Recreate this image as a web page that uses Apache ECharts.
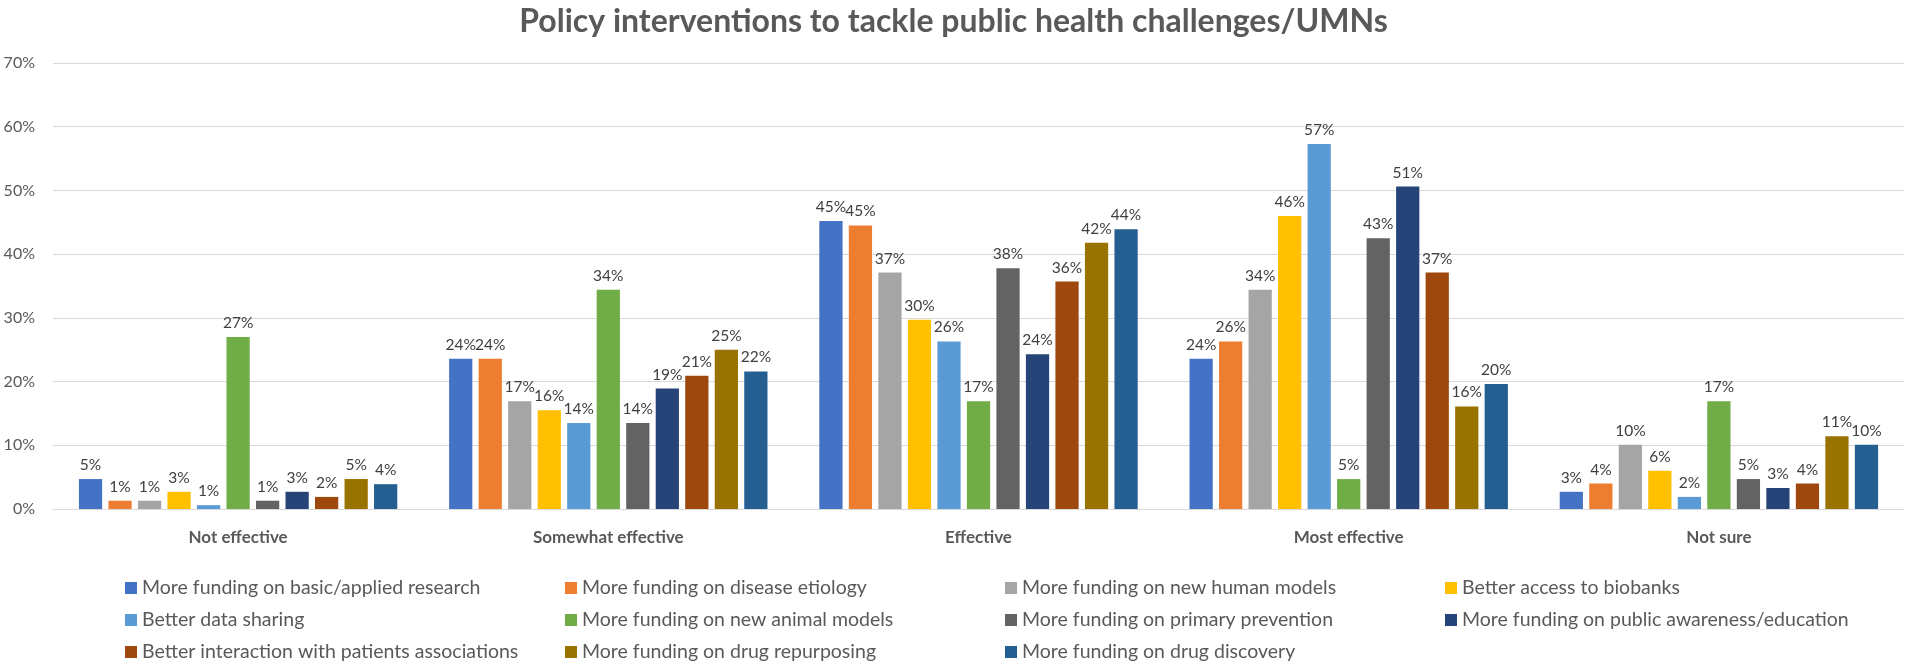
<!DOCTYPE html>
<html>
<head>
<meta charset="utf-8">
<script src="https://cdn.jsdelivr.net/npm/echarts@6/dist/echarts.min.js"></script>
<style>
  html, body { margin: 0; padding: 0; background: #fff; }
  #chart { width: 1907px; height: 666px; }
</style>
</head>
<body>
<div id="chart"></div>
<script>
// categories on the x axis
const categories = ['Not effective', 'Somewhat effective', 'Effective', 'Most effective', 'Not sure']

// series names (legend order)
const seriesNames = [
  'More funding on basic/applied research',
  'More funding on disease etiology',
  'More funding on new human models',
  'Better access to biobanks',
  'Better data sharing',
  'More funding on new animal models',
  'More funding on primary prevention',
  'More funding on public awareness/education',
  'Better interaction with patients associations',
  'More funding on drug repurposing',
  'More funding on drug discovery'
]

// values in percent, one array per series
const basicResearch   = [4.7, 23.6, 45.2, 23.6, 2.7]
const diseaseEtiology = [1.3, 23.6, 44.5, 26.3, 4.0]
const humanModels     = [1.3, 16.9, 37.1, 34.4, 10.1]
const biobanks        = [2.7, 15.5, 29.7, 46.0, 6.0]
const dataSharing     = [0.6, 13.5, 26.3, 57.3, 1.9]
const animalModels    = [27.0, 34.4, 16.9, 4.7, 16.9]
const primaryPrev     = [1.3, 13.5, 37.8, 42.5, 4.7]
const publicAwareness = [2.7, 18.9, 24.3, 50.6, 3.3]
const patientAssoc    = [1.9, 20.9, 35.7, 37.1, 4.0]
const drugRepurposing = [4.7, 25.0, 41.8, 16.1, 11.4]
const drugDiscovery   = [3.9, 21.6, 43.9, 19.6, 10.1]

const seriesValues = [
  basicResearch, diseaseEtiology, humanModels, biobanks, dataSharing,
  animalModels, primaryPrev, publicAwareness, patientAssoc, drugRepurposing, drugDiscovery
]

const colors = [
  '#4472C4', '#ED7D31', '#A5A5A5', '#FFC000', '#5B9BD5',
  '#70AD47', '#636363', '#264478', '#9E480E', '#997300', '#255E91'
]

const FONT = 'Lato, "Open Sans", sans-serif'

const chart = echarts.init(document.getElementById('chart'))

const series = seriesNames.map((name, i) => ({
  name: name,
  type: 'bar',
  data: seriesValues[i],
  barCategoryGap: '14%',
  barGap: '27%',
  itemStyle: { color: colors[i] },
  label: {
    show: true,
    position: 'top',
    distance: 6,
    color: '#404040',
    fontFamily: FONT,
    fontSize: 15.5,
    formatter: p => Math.round(p.value) + '%'
  }
}))

chart.setOption({
  animation: false,
  color: colors,
  title: {
    text: 'Policy interventions to tackle public health challenges/UMNs',
    left: 'center',
    top: 1,
    textStyle: { fontFamily: FONT, fontSize: 32, fontWeight: 'bold', color: '#595959' }
  },
  grid: { left: 53, right: 3, top: 63, bottom: 157, containLabel: false },
  legend: {
    left: 120,
    top: 571,
    width: 1770,
    itemWidth: 12,
    itemHeight: 12,
    itemGap: 8,
    icon: 'rect',
    data: seriesNames,
    textStyle: {
      fontFamily: FONT, fontSize: 19.5, color: '#595959',
      width: 415, overflow: 'truncate', lineHeight: 24
    }
  },
  xAxis: {
    type: 'category',
    data: categories,
    axisTick: { show: false },
    axisLine: { lineStyle: { color: '#D9D9D9', width: 1 } },
    axisLabel: {
      margin: 20, color: '#595959', fontFamily: FONT, fontSize: 17, fontWeight: 'bold'
    }
  },
  yAxis: {
    type: 'value',
    min: 0,
    max: 70,
    interval: 10,
    axisLine: { show: false },
    axisTick: { show: false },
    splitLine: { lineStyle: { color: '#D9D9D9', width: 1 } },
    axisLabel: {
      margin: 18, color: '#595959', fontFamily: FONT, fontSize: 16,
      formatter: '{value}%'
    }
  },
  series: series
})
</script>
</body>
</html>
